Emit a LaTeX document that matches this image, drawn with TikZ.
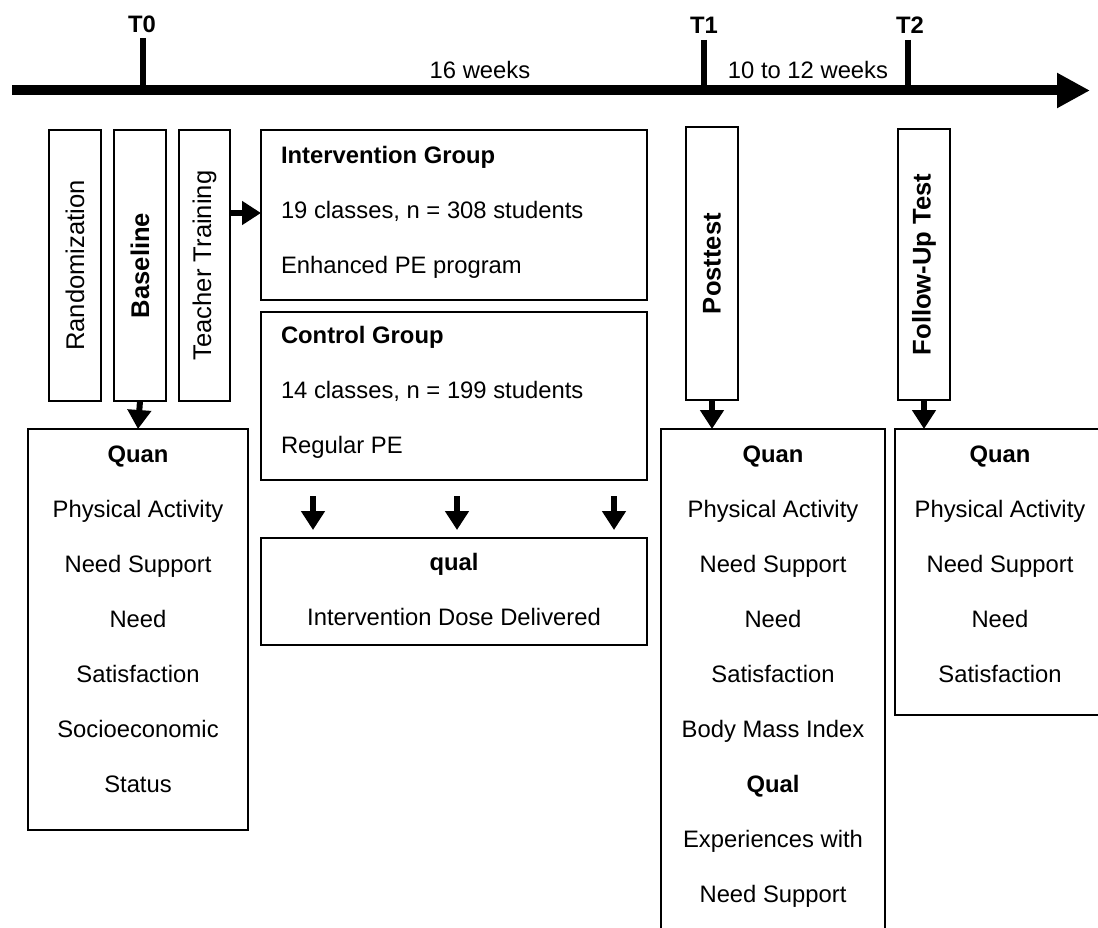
\documentclass[tikz,border=0pt]{standalone}
\usepackage{fontspec}
\setmainfont{Liberation Sans}
\usetikzlibrary{arrows.meta}
\begin{document}
\begin{tikzpicture}[x=1pt,y=-1pt,
  every node/.style={font=\fontsize{23.8}{55}\selectfont, inner sep=0pt, outer sep=0pt},
  box/.style={draw, line width=2.4pt, rectangle},
  vbox/.style={box, rotate=90, minimum height=52pt, font=\fontsize{25.6}{30}\selectfont},
  fat/.style={line width=6pt, -{Triangle[length=19pt,width=23pt]}},
  tick/.style={line width=6pt},
  tlabel/.style={font=\fontsize{23.8}{28}\bfseries\selectfont, anchor=base},
  lines/.style={align=center, anchor=base}]
\useasboundingbox (0,0) rectangle (1098,928);
\clip (0,0) rectangle (1098,928);

% timeline
\coordinate (tlA) at (12,90.5);
\coordinate (tlB) at (1090,90.5);
\draw[line width=10pt, -{Triangle[length=33pt,width=33pt]}] (tlA) -- (tlB);
\coordinate (t0top) at (143,38);
\coordinate (t1top) at (704,40);
\coordinate (t2top) at (908,40);
\draw[tick] (t0top) -- (t0top |- tlA);
\draw[tick] (t1top) -- (t1top |- tlA);
\draw[tick] (t2top) -- (t2top |- tlA);
\node[tlabel] (T0) at (142,33) {T0};
\node[tlabel] (T1) at (704,34) {T1};
\node[tlabel] (T2) at (910,34) {T2};
\node[anchor=base] (w16) at (480,79) {16 weeks};
\node[anchor=base] (w1012) at (808,79) {10 to 12 weeks};

% vertical boxes
\node[vbox, minimum width=271pt] (rand) at (75,265.5) {Randomization};
\node[vbox, minimum width=271pt] (base) at (140,265.5) {\bfseries Baseline};
\node[vbox, minimum width=271pt, minimum height=51pt] (teach) at (204.5,265.5) {Teacher Training};
\node[vbox, minimum width=273pt] (post) at (712,263.5) {\bfseries Posttest};
\node[vbox, minimum width=271pt] (follow) at (924,264.5) {\bfseries Follow-Up Test};

% group boxes
\node[box, minimum width=386pt, minimum height=170pt] (interv) at (454,215) {};
\node[anchor=base west] (intT1) at (281,163.5) {\bfseries Intervention Group};
\node[anchor=base west] (intT2) at (281,218.5) {19 classes, n = 308 students};
\node[anchor=base west] (intT3) at (281,273.5) {Enhanced PE program};

\node[box, minimum width=386pt, minimum height=168pt] (control) at (454,396) {};
\node[anchor=base west] (conT1) at (281,343.5) {\bfseries Control Group};
\node[anchor=base west] (conT2) at (281,398.5) {14 classes, n = 199 students};
\node[anchor=base west] (conT3) at (281,453.5) {Regular PE};

\node[box, minimum width=386pt, minimum height=107pt] (qual) at (454,591.5) {};
\node[lines] (qualT) at (454,625) {\bfseries qual\\Intervention Dose Delivered};

% measurement boxes
\node[box, minimum width=220pt, minimum height=401pt] (quanL) at (138,629.5) {};
\node[lines] (quanLT) at (138,792) {\bfseries Quan\\Physical Activity\\Need Support\\Need\\Satisfaction\\Socioeconomic\\Status};

\node[box, minimum width=224pt, minimum height=516pt] (quanP) at (773,687) {};
\node[lines] (quanPT) at (773,902) {\bfseries Quan\\Physical Activity\\Need Support\\Need\\Satisfaction\\Body Mass Index\\\bfseries Qual\\Experiences with\\Need Support};

\node[box, minimum width=211pt, minimum height=286pt] (quanF) at (1000.5,572) {};
\node[lines] (quanFT) at (1000,682) {\bfseries Quan\\Physical Activity\\Need Support\\Need\\Satisfaction};

% arrows
\draw[fat] (base.west) -- (quanL.north);
\draw[fat] (post.west) -- (quanP.north -| post.west);
\draw[fat] (follow.west) -- (quanF.north -| follow.west);
\coordinate (ta) at (0,213);
\draw[fat] (teach.south |- ta) -- (interv.west |- ta);
\coordinate (c1) at (313,0);
\coordinate (c2) at (457,0);
\coordinate (c3) at (614,0);
\draw[fat, shorten <=16pt, shorten >=8pt] (control.south -| c1) -- (qual.north -| c1);
\draw[fat, shorten <=16pt, shorten >=8pt] (control.south -| c2) -- (qual.north -| c2);
\draw[fat, shorten <=16pt, shorten >=8pt] (control.south -| c3) -- (qual.north -| c3);
\end{tikzpicture}
\end{document}
